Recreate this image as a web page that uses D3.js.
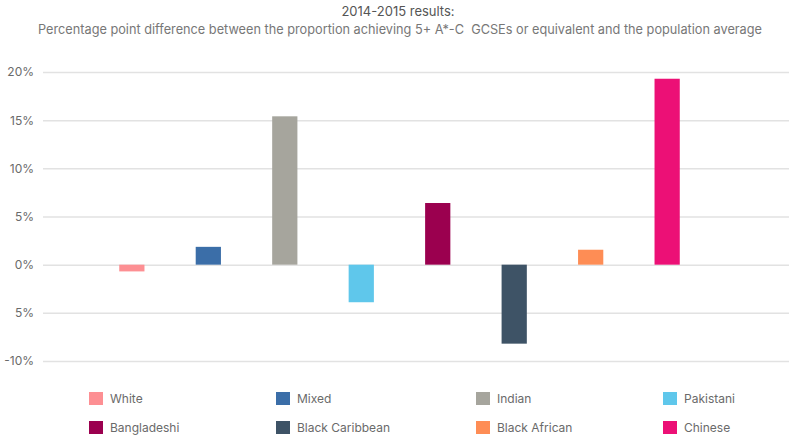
<html>
<head>
<script src="https://cdnjs.cloudflare.com/ajax/libs/d3/7.8.5/d3.min.js"></script>
<style>
body {
    margin: 0;
    background: #fff;
}
svg text {
    font-family: Inter, "Noto Sans", sans-serif;
}
</style>
</head>
<body>
<svg id="chart" width="789" height="436"></svg>
<script>
var groups = ["White", "Mixed", "Indian", "Pakistani", "Bangladeshi", "Black Caribbean", "Black African", "Chinese"];
var values = [-0.7, 1.85, 15.4, -3.9, 6.4, -8.2, 1.55, 19.3];
var colors = ["#fd8f93", "#3b6ea8", "#a6a59d", "#5fc7eb", "#9b004f", "#3e5366", "#fe8d55", "#ec1076"];
var tickValues = [20, 15, 10, 5, 0, -5, -10];
var tickLabels = ["20%", "15%", "10%", "5%", "0%", "5%", "-10%"];   // as printed in the source
var title = "2014-2015 results:";
var subtitle = "Percentage point difference between the proportion achieving 5+ A*-C  GCSEs or equivalent and the population average";

var svg = d3.select("#chart");

var y = d3.scaleLinear().domain([-10, 20]).range([361, 72]);
var x = d3.scaleBand().domain(groups).range([94, 705]).paddingInner(0.67).paddingOuter(0.33);

// titles
svg.append("text")
    .attr("x", 398).attr("y", 16)
    .attr("text-anchor", "middle")
    .style("font-size", "13px")
    .style("fill", "#555")
    .text(title);

svg.append("text")
    .attr("x", 400).attr("y", 34)
    .attr("text-anchor", "middle")
    .attr("textLength", 724)
    .attr("lengthAdjust", "spacingAndGlyphs")
    .style("white-space", "pre")
    .style("font-size", "13px")
    .style("fill", "#777")
    .text(subtitle);

// y axis with gridlines
var yAxis = d3.axisLeft(y)
    .tickValues(tickValues)
    .tickSize(-746)
    .tickPadding(9)
    .tickFormat(function(d, i) { return tickLabels[i]; });

var ax = svg.append("g")
    .attr("transform", "translate(43,0)")
    .call(yAxis);
ax.select(".domain").remove();
ax.selectAll(".tick line").attr("stroke", "#e2e2e2").attr("stroke-width", 1.5);
ax.selectAll(".tick text")
    .style("font-size", "12px")
    .style("fill", "#6a6a6a");

// bars
svg.selectAll("rect.bar")
    .data(values)
    .enter().append("rect")
    .attr("class", "bar")
    .attr("x", function(d, i) { return x(groups[i]); })
    .attr("width", x.bandwidth())
    .attr("y", function(d) { return y(Math.max(0, d)); })
    .attr("height", function(d) { return Math.abs(y(d) - y(0)); })
    .attr("fill", function(d, i) { return colors[i]; });

// legend
var legendX = [89, 276, 476, 663];
var legendY = [392, 421];
var legend = svg.selectAll("g.legend")
    .data(groups)
    .enter().append("g")
    .attr("class", "legend")
    .attr("transform", function(d, i) {
        return "translate(" + legendX[i % 4] + "," + legendY[Math.floor(i / 4)] + ")";
    });

legend.append("rect")
    .attr("width", 14).attr("height", 13)
    .attr("fill", function(d, i) { return colors[i]; });

legend.append("text")
    .attr("x", 21).attr("y", 11)
    .style("font-size", "12px")
    .style("fill", "#6a6a6a")
    .text(function(d) { return d; });
</script>
</body>
</html>
